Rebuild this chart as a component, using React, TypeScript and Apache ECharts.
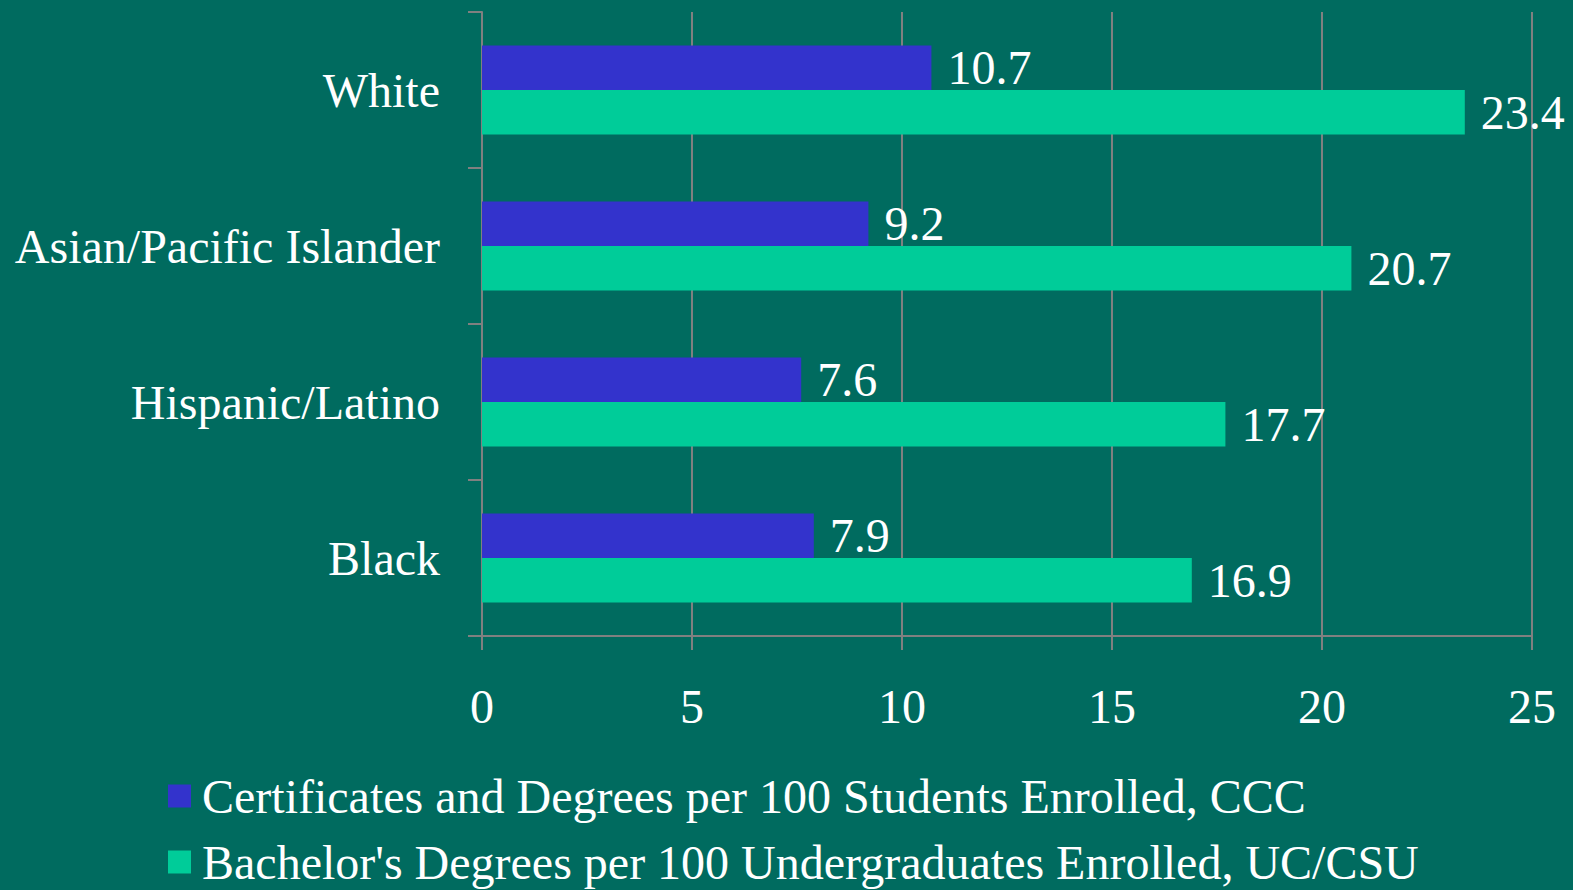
import React, { useEffect, useRef } from "react";
import * as echarts from "echarts";

const categories = ["White", "Asian/Pacific Islander", "Hispanic/Latino", "Black"];
const cccValues = [10.7, 9.2, 7.6, 7.9];
const ucValues = [23.4, 20.7, 17.7, 16.9];
const seriesNames = [
  "Certificates and Degrees per 100 Students Enrolled, CCC",
  "Bachelor's Degrees per 100 Undergraduates Enrolled, UC/CSU",
];

const FONT = "'Liberation Serif', 'Times New Roman', serif";
const GRAY = "#808080";
const FS = 48;

export default function App() {
  const ref = useRef<HTMLDivElement>(null);
  useEffect(() => {
    document.body.style.margin = "0";
    const chart = echarts.init(ref.current!, null, { renderer: "svg" });
    const labelCfg = {
      show: true,
      position: "right",
      distance: 16,
      color: "#ffffff",
      fontSize: FS,
      fontFamily: FONT,
    };
    chart.setOption({
      animation: false,
      backgroundColor: "#006B5F",
      textStyle: { fontFamily: FONT },
      grid: { left: 482, right: 41, top: 12, bottom: 254 },
      legend: {
        orient: "vertical",
        left: 168,
        top: 772,
        padding: 0,
        itemWidth: 23,
        itemHeight: 23,
        itemGap: 18,
        icon: "rect",
        textStyle: { color: "#ffffff", fontSize: FS, fontFamily: FONT, lineHeight: 48, padding: [0, 0, 0, 6] },
        data: seriesNames,
      },
      xAxis: {
        type: "value",
        min: 0,
        max: 25,
        interval: 5,
        axisLine: { show: true, lineStyle: { color: GRAY, width: 2 } },
        axisTick: { show: true, length: 14, lineStyle: { color: GRAY, width: 2 } },
        splitLine: { show: true, lineStyle: { color: GRAY, width: 2 } },
        axisLabel: { color: "#ffffff", fontSize: FS, fontFamily: FONT, margin: 46 },
      },
      yAxis: {
        type: "category",
        inverse: true,
        data: categories,
        axisLine: { show: true, lineStyle: { color: GRAY, width: 2 } },
        axisTick: { show: true, length: 14, lineStyle: { color: GRAY, width: 2 } },
        axisLabel: { color: "#ffffff", fontSize: FS, fontFamily: FONT, margin: 42 },
      },
      series: [
        {
          name: seriesNames[0],
          type: "bar",
          data: cccValues,
          itemStyle: { color: "#3333CC" },
          barGap: "0%",
          barCategoryGap: "43%",
          label: labelCfg,
        },
        {
          name: seriesNames[1],
          type: "bar",
          data: ucValues,
          itemStyle: { color: "#00CC99" },
          barGap: "0%",
          barCategoryGap: "43%",
          label: labelCfg,
        },
      ],
    });
    return () => chart.dispose();
  }, []);
  return <div ref={ref} style={{ width: 1573, height: 890 }} />;
}
